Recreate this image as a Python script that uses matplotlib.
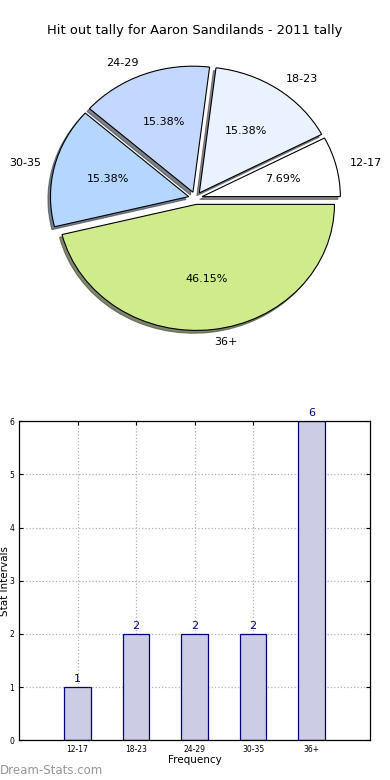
import matplotlib
matplotlib.use("Agg")
import matplotlib.pyplot as plt
import numpy as np

categories = ["12-17", "18-23", "24-29", "30-35", "36+"]
counts = [1, 2, 2, 2, 6]
pie_colors = ["#ffffff", "#eaf1ff", "#c4d8ff", "#b4d6ff", "#d0eb8c"]
title = "Hit out tally for Aaron Sandilands - 2011 tally"

fig = plt.figure(figsize=(3.9, 7.8), dpi=100)

# Pie chart
axp = fig.add_axes([0.058, 0.544, 0.886, 0.404])
wedges, texts, autotexts = axp.pie(
    counts, labels=categories, colors=pie_colors, autopct="%1.2f%%",
    explode=[0.05] * len(counts), startangle=0, counterclock=True,
    shadow={"ox": -0.013, "oy": -0.016, "shade": 0.65, "alpha": 0.7},
    wedgeprops={"edgecolor": "black", "linewidth": 0.8},
    textprops={"fontsize": 8}, labeldistance=1.1, pctdistance=0.6,
)
axp.set_aspect("auto")
axp.set_xlim(-1.25, 1.25)
axp.set_ylim(-1.25, 1.25)
axp.axis("off")
fig.text(0.5, 0.961, title, ha="center", va="center", fontsize=9.4)

# Bar chart
axb = fig.add_axes([0.049, 0.051, 0.9, 0.409])
x = np.arange(len(categories))
bars = axb.bar(x, counts, width=0.45, color="#ccccE4", edgecolor="#000080",
               linewidth=0.9, zorder=2)
for xi, c in zip(x, counts):
    axb.text(xi, c + 0.06, str(c), ha="center", va="bottom", color="#000080",
             fontsize=8)
axb.set_xlim(-1, 5)
axb.set_ylim(0, 6)
axb.set_xticks(x)
axb.set_xticklabels(categories)
axb.set_yticks(range(0, 7))
axb.tick_params(direction="in", labelsize=5.5, top=True, right=True,
                length=3, width=0.8)
axb.grid(True, linestyle=":", color="#b0b0b0", linewidth=0.9, zorder=0)
axb.set_axisbelow(True)
axb.set_xlabel("Frequency", fontsize=7.5, labelpad=1)
axb.set_ylabel("Stat Intervals", fontsize=7.5)
axb.yaxis.set_label_coords(-0.027, 0.5)
for s in axb.spines.values():
    s.set_linewidth(0.9)

fig.text(0.0, 0.012, "Dream-Stats.com", ha="left", va="center", fontsize=8.5,
         color="#959595")

fig.savefig("out.png", dpi=100)
